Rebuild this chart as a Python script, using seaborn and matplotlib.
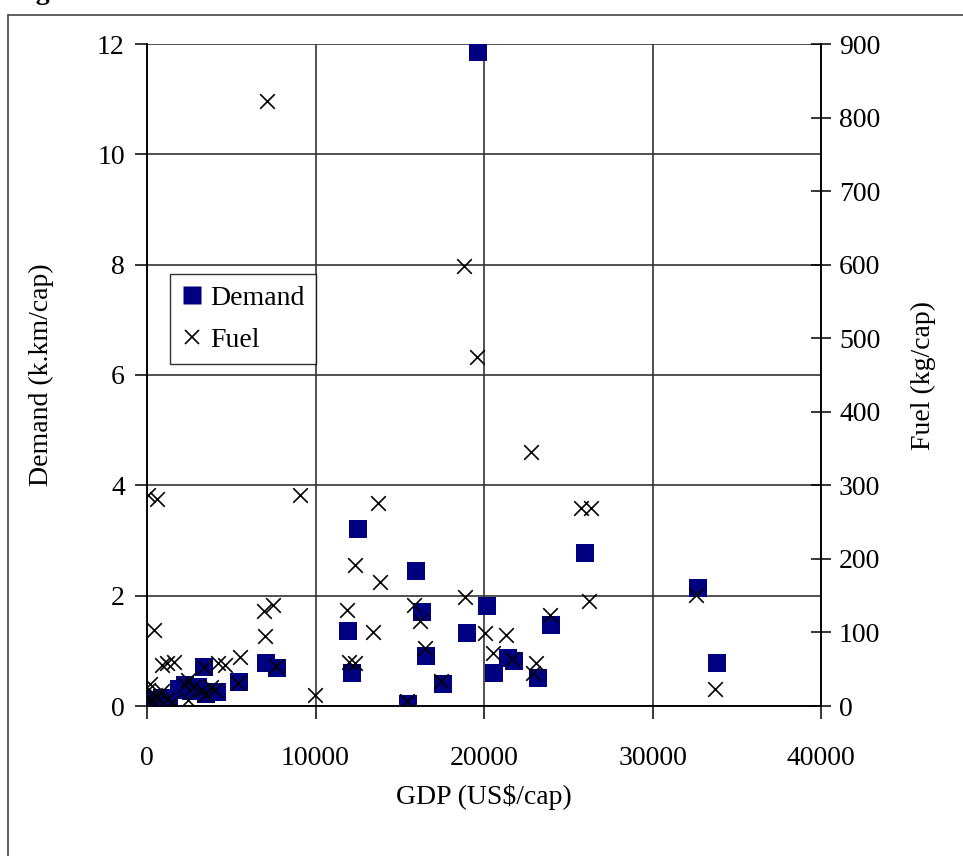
import matplotlib
matplotlib.use("Agg")
import matplotlib.pyplot as plt
from matplotlib.lines import Line2D
import seaborn as sns
import pandas as pd

# Travel demand per capita against GDP per capita
demand_gdp = [19650, 12520, 15970, 26000, 32700, 20180, 16320, 23980, 11930, 18990,
              16560, 21430, 21780, 20590, 23210, 17570, 12170, 15490, 33830, 7060,
              7720, 5460, 3380, 4150, 2260, 3030, 1900, 2600, 3500, 300,
              600, 900, 1100, 500, 1300, 800]
demand_val = [11.85, 3.21, 2.45, 2.77, 2.14, 1.81, 1.70, 1.47, 1.36, 1.32,
              0.91, 0.87, 0.82, 0.60, 0.51, 0.40, 0.60, 0.04, 0.78, 0.78,
              0.69, 0.44, 0.71, 0.25, 0.38, 0.34, 0.30, 0.28, 0.22, 0.05,
              0.10, 0.15, 0.05, 0.00, 0.12, 0.08]

# Fuel use per capita against GDP per capita
fuel_gdp = [7120, 18810, 19590, 22790, 50, 580, 9080, 13710, 25760, 26350,
            12350, 13830, 18870, 26230, 32580, 23920, 11850, 15850, 16200, 13410,
            20060, 21310, 20540, 21660, 23090, 22910, 16500, 17450, 15430, 11990,
            12350, 9970, 33710, 6940, 7460, 7000, 5520, 5400, 7660, 415,
            870, 1190, 1600, 4630, 4210, 3380, 2430, 2260, 2720, 3270,
            4040, 3440, 2430, 3800, 50, 100, 300, 500, 700, 900,
            1200, 1500, 200]
fuel_val = [822, 598, 474, 345, 287, 282, 287, 276, 269, 269,
            192, 169, 148, 143, 151, 124, 131, 137, 115, 100,
            99, 96, 72, 64, 58, 45, 79, 34, 7, 60,
            58, 15, 23, 129, 137, 95, 67, 31, 54, 103,
            56, 58, 60, 56, 59, 53, 35, 28, 26, 22,
            22, 15, 8, 26, 22, 12, 5, 15, 8, 20,
            10, 5, 30]

x_ticks = [0, 10000, 20000, 30000, 40000]
demand_ticks = [0, 2, 4, 6, 8, 10, 12]
fuel_ticks = [0, 100, 200, 300, 400, 500, 600, 700, 800, 900]

sns.set_style("white")
plt.rcParams["font.family"] = ["Liberation Serif", "DejaVu Serif"]
plt.rcParams["font.size"] = 20
plt.rcParams["text.color"] = "black"
plt.rcParams["axes.labelcolor"] = "black"
plt.rcParams["xtick.color"] = "black"
plt.rcParams["ytick.color"] = "black"

navy = "#000080"
ink = "#000000"

fig = plt.figure(figsize=(9.63, 8.56), dpi=100)
ax = fig.add_axes([147 / 963, 1 - 706 / 856, 674 / 963, 662 / 856])

df_d = pd.DataFrame({"GDP": demand_gdp, "Demand": demand_val})
df_f = pd.DataFrame({"GDP": fuel_gdp, "Fuel": fuel_val})

sns.scatterplot(data=df_d, x="GDP", y="Demand", ax=ax, marker="s", s=175,
                color=navy, edgecolor="none", zorder=3, legend=False)
ax.set_xlim(0, 40000)
ax.set_ylim(0, 12)
ax.set_xticks(x_ticks)
ax.set_yticks(demand_ticks)
ax.grid(True, color="#333333", linewidth=1.2)
ax.set_axisbelow(True)
ax.tick_params(axis="both", direction="out", length=9, width=1.1, color=ink,
               labelcolor=ink, labelsize=20)
ax.tick_params(axis="y", pad=7, left=True)
ax.tick_params(axis="x", pad=20, bottom=True)
ax.set_xlabel("GDP (US$/cap)", fontsize=20, labelpad=9, color=ink)
ax.set_ylabel("Demand (k.km/cap)", fontsize=20, labelpad=31, color=ink)

ax2 = ax.twinx()
sns.scatterplot(data=df_f, x="GDP", y="Fuel", ax=ax2, marker="x", s=110,
                color=ink, linewidth=1.2, zorder=4, legend=False)
ax2.set_ylim(0, 900)
ax2.set_yticks(fuel_ticks)
ax2.set_xlim(0, 40000)
ax2.tick_params(axis="y", direction="inout", length=14, width=1.1, color=ink,
                labelcolor=ink, labelsize=20, pad=6, right=True)
ax2.set_ylabel("Fuel (kg/cap)", fontsize=20, labelpad=22, color=ink)

for a in (ax, ax2):
    for side, sp in a.spines.items():
        sp.set_color(ink)
        sp.set_linewidth(1.1)
    a.spines["top"].set_visible(False)

handles = [
    Line2D([], [], marker="s", linestyle="none", markersize=13,
           markerfacecolor=navy, markeredgecolor="none", label="Demand"),
    Line2D([], [], marker="x", linestyle="none", markersize=10,
           color=ink, markeredgewidth=1.2, label="Fuel"),
]
leg = ax2.legend(handles=handles, loc="upper left",
                 bbox_to_anchor=(0.034, 0.6526), frameon=True, fancybox=False,
                 fontsize=20, handlelength=0.8, handletextpad=0.25,
                 borderpad=0.4, labelspacing=0.6, borderaxespad=0)
leg.get_frame().set_edgecolor(ink)
leg.get_frame().set_linewidth(1.0)
leg.get_frame().set_facecolor("white")
for t in leg.get_texts():
    t.set_color(ink)

# Outer chart frame and the figure caption running off the top edge
fig.add_artist(Line2D([8 / 963, 8 / 963], [0, 1 - 15 / 856],
                      transform=fig.transFigure, color="#444444", linewidth=1.2))
fig.add_artist(Line2D([8 / 963, 1], [1 - 15 / 856, 1 - 15 / 856],
                      transform=fig.transFigure, color="#444444", linewidth=1.2))
fig.text(12 / 963, 1 + 1 / 856, "Figure", fontsize=20, fontweight="bold",
         ha="left", va="baseline", color=ink)

fig.savefig("out.png", dpi=100, facecolor="white")
